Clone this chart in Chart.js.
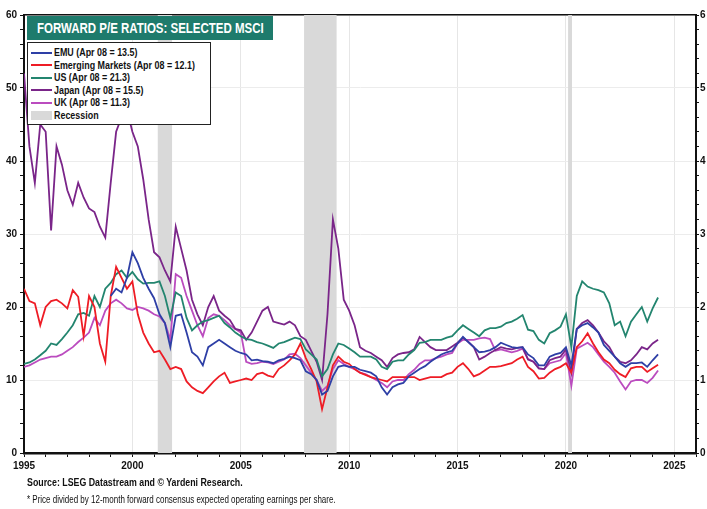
<!DOCTYPE html>
<html>
<head>
<meta charset="utf-8">
<script src="https://cdn.jsdelivr.net/npm/chart.js@4.4.0/dist/chart.umd.min.js"></script>
<style>
  body { margin: 0; background: #fff; }
  #wrap { position: relative; width: 707px; height: 509px; font-family: 'Liberation Sans', Arial, sans-serif; color: #111; }
  #chart { position: absolute; left: 0; top: 0; }
  .narrow { display: inline-block; transform-origin: left center; white-space: nowrap; }
  #title { position: absolute; left: 27px; top: 16px; width: 246px; height: 24px; line-height: 24px; background: #1e7b6c; color: #fff; font-weight: bold; font-size: 14px; overflow: hidden; }
  #title .narrow { margin-left: 10px; transform: scaleX(0.82); }
  #legend { position: absolute; left: 27px; top: 42px; width: 182px; height: 78px; border: 1.5px solid #222; background: #fff; padding-top: 3px; }
  .row { position: relative; height: 12.6px; font-size: 11px; font-weight: bold; line-height: 12.6px; white-space: nowrap; }
  .swatch { position: absolute; left: 3px; top: 5.5px; width: 21px; height: 2px; }
  .swatch.box { top: 2px; height: 9px; }
  .row .narrow { position: absolute; left: 26px; top: 0; transform: scaleX(0.81); }
  .note { position: absolute; left: 27px; white-space: nowrap; }
  #src .narrow { transform: scaleX(0.84); }
  #fn .narrow { transform: scaleX(0.8); }
  #src { top: 476px; font-size: 10.5px; font-weight: bold; }
  #fn { top: 494px; font-size: 10px; }
</style>
</head>
<body>
<div id="wrap">
  <canvas id="chart" width="707" height="509"></canvas>
  <div id="title"><span class="narrow">FORWARD P/E RATIOS: SELECTED MSCI</span></div>
  <div id="legend"></div>
  <div class="note" id="src"><span class="narrow">Source: LSEG Datastream and © Yardeni Research.</span></div>
  <div class="note" id="fn"><span class="narrow">* Price divided by 12-month forward consensus expected operating earnings per share.</span></div>
</div>
<script>
// quarterly readings, 1995 Q1 .. 2024 Q2
const FIRST_YEAR = 1995;
const N_QUARTERS = 118;
const quarters = Array.from({ length: N_QUARTERS }, (_, i) => FIRST_YEAR + i / 4);

const emu = [
  null, null, null, null,  null, null, null, null,  null, null, null, null,  null, null, null, null,
  21.5, 22.5, 22, 24,      27.5, 26, 24, 22.5,      21.2, 19, 17.8, 14.5,    18.8, 19, 16.5, 13.8,
  13.2, 12, 14.5, 15,      15.5, 15, 14.5, 14,      13.7, 13.5, 12.7, 12.8,  12.6, 12.5, 12.3, 12.7,
  12.9, 13.2, 13, 12.7,    11.2, 10.8, 10, 8,       8.5, 10.5, 11.8, 12,     11.8, 11.8, 11.4, 11.2,
  11, 10.5, 9, 8,          9, 9.4, 9.6, 10.5,       11, 11.5, 11.9, 12.5,    13, 13.5, 13.8, 14,
  15, 15.9, 15.2, 14.5,    13.8, 13.9, 14.1, 14.5,  15.1, 14.8, 14.5, 14.4,  14.5, 13.5, 13, 12,
  12, 13.2, 13.5, 13.7,    14.5, 12, 17, 17.5,      17.8, 17.2, 16.5, 14.8,  14, 13.2, 12.3, 11.8,
  12.3, 12.3, 12.4, 11.8,  12.7, 13.5
];
const emerging = [
  22.5, 20.8, 20.5, 17.5,  20, 20.8, 21, 20.5,      19.8, 22.3, 21.4, 16,    21.5, 20, 15, 12.5,
  21.5, 25.5, 24, 22.5,    23.5, 19, 16.5, 15,      13.8, 14, 12.8, 11.5,    11.8, 11.5, 9.8, 9,
  8.5, 8.2, 9, 9.8,        10.5, 11, 9.6, 9.8,      10, 10.2, 10, 10.8,      11, 10.6, 10.4, 11.5,
  12, 12.7, 13.5, 15,      13, 11.5, 9.8, 6,        9, 12, 13.2, 12.5,       12.2, 11.5, 11, 10.7,
  10.4, 10.2, 10, 9.8,     10.4, 10.4, 10.4, 10.4,  10.4, 10, 10.2, 10.4,    10.4, 10.4, 10.8, 11,
  11.8, 12.3, 11.5, 10.5,  10.8, 11.3, 11.8, 11.8,  11.9, 12.1, 12.3, 12.8,  13.2, 11.8, 11.2, 10.2,
  10.3, 11, 11.5, 11.8,    12.3, 11, 14.5, 15.3,    16.4, 15, 13.8, 12.8,    12.3, 11.4, 10.8, 10.4,
  11.6, 11.8, 11.8, 11.1,  11.6, 12.1
];
const us = [
  12.2, 12.4, 12.8, 13.4,  14, 15, 14.8, 15.6,      16.5, 17.5, 19, 19.2,    18.8, 21.5, 20, 22.5,
  23.3, 24.5, 25, 24,      24.8, 23.8, 23.2, 23.3,  23.3, 23.5, 21.5, 18.5,  22, 21.5, 18.5, 16.8,
  17.5, 18, 18.2, 18.5,    18.8, 17.8, 17.2, 16.5,  16, 15.6, 15.5, 15.2,    15, 14.7, 14.4, 15,
  15.2, 15.5, 15.8, 15.6,  14.2, 13.5, 12.8, 10.5,  11.5, 13.5, 15, 14.8,    14.3, 13.8, 13.2, 13.2,
  13.2, 12.8, 11.8, 11.5,  12.5, 12.7, 12.7, 13.5,  14.1, 15.1, 15.2, 15.5,  15.5, 15.5, 15.8, 16,
  16.8, 17.5, 17, 16.5,    16, 16.8, 17.1, 17.1,    17.3, 17.8, 18, 18.4,    18.9, 16.9, 16.7, 15.5,
  15, 16.4, 16.8, 17.3,    19, 14.5, 21.5, 23.5,    22.8, 22.5, 22.3, 22,    20.5, 17.5, 18, 16,
  18, 19, 20, 18,          19.8, 21.3
];
const japan = [
  52, 42, 37, 45,          44, 30.5, 42, 39.5,      36, 34, 37, 35,          33.5, 33, 31, 29.5,
  37, 44, 46, 47,          44, 42, 37.5, 32,        27.5, 26.8, 25, 23.5,    31, 28, 25, 21,
  19, 17.5, 20, 21.5,      19.5, 18.8, 18.2, 17,    16.8, 15.5, 16.5, 18,    19.5, 20, 18, 17.8,
  17.6, 18, 17.5, 16,      15.5, 14, 12.5, 10,      19, 32, 28, 21,          19.5, 17.5, 14.5, 14,
  13.7, 13.2, 12.7, 11.8,  13, 13.5, 13.7, 13.8,    14.2, 15.9, 15.2, 14.5,  14.1, 14.1, 14.1, 14.6,
  15.1, 15.8, 15.2, 14.5,  12.8, 13.2, 13.7, 14.1,  14.5, 14.3, 14.2, 14.4,  14.5, 12.8, 12.5, 11.6,
  11.5, 12.7, 13, 13.2,    14.2, 11, 17, 17.8,      18.2, 17.5, 16.5, 15.3,  14.5, 13.2, 12.5, 12.3,
  12.7, 13.5, 14.5, 14.2,  15, 15.5
];
const uk = [
  11.8, 12, 12.4, 12.8,    13, 13.2, 13.2, 13.5,    14, 14.5, 15.2, 15.8,    16.5, 18.5, 17.5, 19.5,
  20.5, 21, 20.5, 19.8,    19.6, 20, 19.8, 19.5,    19, 18.7, 17.8, 15.5,    24.5, 24, 21.5, 19.5,
  17.5, 16, 18.5, 19,      18.8, 18.2, 17.5, 17,    16.5, 12.5, 12.2, 12.3,  12.5, 12.4, 12.2, 12.5,
  12.8, 13.5, 13.6, 13,    12, 11, 10, 8.5,         9.2, 11.5, 12.7, 12.2,   11.8, 11.5, 11, 10.8,
  10.4, 10, 9.6, 9,        9.8, 10, 10, 10.8,       11.4, 12.2, 12.7, 12.7,  13, 13.2, 13.5, 13.7,
  15, 15.5, 15.5, 15.5,    15.7, 15.8, 15.6, 14,    14.2, 14, 13.8, 14,      14.3, 12.9, 12.5, 11.6,
  11.5, 12.3, 12.5, 12.7,  13.7, 9.2, 14.3, 14.7,   15.1, 14.5, 13.5, 12.5,  11.8, 11, 9.8, 8.7,
  9.8, 10, 10, 9.6,        10.3, 11.3
];

const seriesNames  = ['EMU (Apr 08 = 13.5)', 'Emerging Markets (Apr 08 = 12.1)', 'US (Apr 08 = 21.3)', 'Japan (Apr 08 = 15.5)', 'UK (Apr 08 = 11.3)'];
const seriesColors = ['#2e3fa6', '#ee1c25', '#23856f', '#7a2589', '#bb4cbf'];
const seriesValues = [emu, emerging, us, japan, uk];

// recession periods (decimal years)
const recessions = [[2001.17, 2001.83], [2007.92, 2009.42], [2020.1, 2020.28]];
const RECESSION_COLOR = '#d9d9d9';

const FONT = "'Liberation Sans', Arial, sans-serif";
const TICK_FONT = { family: FONT, size: 10, weight: 'bold' };
const INK = '#111';

// legend (html box over the plot)
const legendEl = document.getElementById('legend');
seriesNames.forEach((name, i) => {
  legendEl.insertAdjacentHTML('beforeend',
    `<div class="row"><div class="swatch" style="background:${seriesColors[i]}"></div><span class="narrow">${name}</span></div>`);
});
legendEl.insertAdjacentHTML('beforeend',
  `<div class="row"><div class="swatch box" style="background:${RECESSION_COLOR}"></div><span class="narrow">Recession</span></div>`);

const recessionBands = {
  id: 'recessionBands',
  beforeDatasetsDraw(chart) {
    const { ctx, chartArea, scales: { x } } = chart;
    ctx.save();
    ctx.fillStyle = RECESSION_COLOR;
    recessions.forEach(([a, b]) => {
      const x0 = x.getPixelForValue(a), x1 = x.getPixelForValue(b);
      ctx.fillRect(x0, chartArea.top, x1 - x0, chartArea.bottom - chartArea.top);
    });
    ctx.restore();
  },
};

const isWhole = (v, step) => Math.abs(v / step - Math.round(v / step)) < 1e-6;

new Chart(document.getElementById('chart'), {
  type: 'line',
  data: {
    datasets: seriesValues.map((vals, i) => ({
      label:       seriesNames[i],
      data:        quarters.map((t, j) => ({ x: t, y: vals[j] })).filter(p => p.y !== null),
      borderColor: seriesColors[i],
      borderWidth: 1.8,
      pointRadius: 0,
      tension:     0,
      fill:        false,
      yAxisID:     'y',
    })),
  },
  options: {
    responsive: false,
    animation: false,
    layout: { padding: { left: 0, right: 0, top: 15, bottom: 36 } },
    plugins: { legend: { display: false }, tooltip: { enabled: false } },
    scales: {
      x: {
        type: 'linear', min: 1995, max: 2026, position: 'bottom',
        ticks: { stepSize: 1, autoSkip: false, maxRotation: 0, padding: 3, color: INK, font: TICK_FONT,
                 callback: v => isWhole(v, 5) ? String(v) : '' },
        grid: { color: c => c.tick && isWhole(c.tick.value, 5) ? '#e6e6e6' : 'rgba(0,0,0,0)',
                tickColor: INK, tickLength: 4 },
        border: { color: INK, width: 2.5 },
        afterFit: s => { s.height = 20; },
      },
      xTop: {
        type: 'linear', min: 1995, max: 2026, position: 'top',
        ticks: { display: false },
        grid: { display: false },
        border: { color: INK, width: 1.5 },
        afterFit: s => { s.height = 0; },
      },
      y: {
        min: 0, max: 60, position: 'left',
        ticks: { stepSize: 2, autoSkip: false, padding: 3, color: INK, font: TICK_FONT,
                 callback: v => isWhole(v, 10) ? String(v) : '' },
        grid: { color: c => c.tick && isWhole(c.tick.value, 10) ? '#ececec' : 'rgba(0,0,0,0)',
                tickColor: INK, tickLength: 4 },
        border: { color: INK, width: 2 },
        afterFit: s => { s.width = 24; },
      },
      y2: {
        min: 0, max: 6, position: 'right',
        ticks: { stepSize: 0.2, autoSkip: false, padding: 1, color: INK, font: TICK_FONT,
                 callback: v => isWhole(v, 1) ? String(Math.round(v)) : '' },
        grid: { drawOnChartArea: false, tickColor: INK, tickLength: 3 },
        border: { color: INK, width: 2 },
        afterFit: s => { s.width = 11; },
      },
    },
  },
  plugins: [recessionBands],
});
</script>
</body>
</html>
